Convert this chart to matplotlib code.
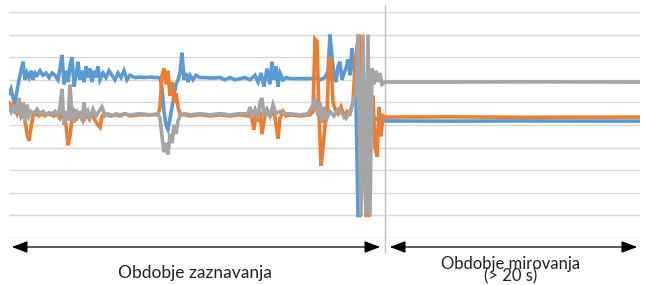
import numpy as np
import matplotlib
matplotlib.use('Agg')
import matplotlib.pyplot as plt
from matplotlib.patches import FancyArrowPatch

# Sensor traces (sample index, value)
blue_pts = [(0, 6.4), (2, 6.6), (4, 6.2), (6, 6.0), (8, 6.5), (10, 7.0), (12, 7.4), (14, 7.8), (16, 7.0), (18, 7.3),
            (20, 7.1), (22, 7.4), (24, 7.0), (26, 7.3), (28, 7.2), (31, 7.4), (34, 7.2), (37, 7.3), (40, 7.1), (43, 7.3),
            (46, 7.2), (49, 7.0), (51, 7.5), (53, 8.1), (55, 6.8), (57, 7.4), (59, 6.9), (61, 7.6), (63, 8.0), (65, 6.7),
            (67, 7.2), (69, 7.8), (71, 7.0), (73, 7.4), (75, 6.9), (77, 7.6), (79, 7.1), (81, 7.5), (83, 6.9), (85, 7.4),
            (87, 7.1), (89, 7.6), (91, 7.0), (94, 7.3), (97, 7.1), (100, 7.4), (103, 7.2), (106, 7.0), (109, 7.3), (112, 7.1),
            (115, 7.4), (118, 7.0), (121, 7.2), (126, 7.1), (131, 7.12), (136, 7.1), (141, 7.12), (146, 7.1), (151, 7.1),
            (153, 6.6), (155, 5.6), (157, 5.0), (159, 4.8), (161, 5.3), (163, 5.8), (165, 6.3), (167, 6.8), (169, 7.0),
            (171, 7.3), (173, 8.2), (175, 7.0), (177, 7.3), (179, 6.9), (181, 7.2), (184, 7.0), (187, 7.2), (191, 7.1),
            (196, 7.1), (201, 7.08), (206, 7.08), (211, 7.1), (216, 7.0), (221, 7.1), (226, 7.0), (231, 7.05), (236, 7.1),
            (241, 7.0), (246, 7.2), (249, 6.9), (252, 7.3), (255, 6.7), (258, 7.5), (261, 6.8), (263, 7.8), (265, 7.0),
            (267, 7.6), (269, 6.7), (271, 7.3), (274, 7.0), (277, 7.1), (281, 7.05), (291, 7.05), (301, 7.05), (306, 7.1),
            (311, 7.0), (316, 7.1), (319, 7.4), (321, 9.0), (323, 8.0), (325, 7.2), (327, 6.9), (329, 7.6), (331, 7.8),
            (333, 7.0), (335, 7.3), (337, 7.5), (339, 7.9), (341, 7.2), (343, 8.4), (345, 7.6), (347, 6.0), (349, 1.0),
            (351, 1.0), (353, 6.5), (357, 6.0), (361, 5.5), (366, 5.3), (371, 5.2), (376, 5.18), (441, 5.17), (511, 5.18),
            (631, 5.17)]

orange_pts = [(0, 6.0), (2, 5.6), (4, 5.9), (6, 5.7), (8, 5.5), (10, 5.8), (12, 5.4), (14, 5.6), (16, 5.2), (18, 4.6),
              (20, 4.3), (22, 4.9), (24, 5.4), (27, 5.5), (30, 5.4), (33, 5.5), (36, 5.4), (39, 5.5), (42, 5.45), (45, 5.4),
              (48, 5.5), (51, 5.3), (54, 5.6), (57, 5.0), (59, 4.1), (61, 4.5), (63, 5.3), (65, 5.6), (68, 5.3), (71, 5.5),
              (74, 5.2), (77, 5.6), (80, 5.3), (83, 5.5), (86, 5.2), (89, 5.0), (91, 4.9), (93, 5.4), (96, 5.5), (101, 5.4),
              (106, 5.45), (111, 5.4), (116, 5.5), (121, 5.4), (131, 5.45), (141, 5.45), (149, 5.45), (151, 5.8), (153, 7.2),
              (155, 7.5), (157, 6.8), (159, 7.4), (161, 6.3), (163, 6.9), (165, 6.0), (167, 6.4), (169, 5.8), (171, 5.5),
              (176, 5.45), (181, 5.4), (191, 5.45), (201, 5.4), (211, 5.45), (221, 5.4), (231, 5.45), (239, 5.4), (241, 5.7),
              (243, 5.2), (245, 4.8), (247, 5.5), (249, 5.3), (251, 5.6), (253, 4.6), (255, 5.2), (257, 5.6), (261, 5.4),
              (265, 5.6), (267, 5.0), (269, 4.4), (271, 5.3), (274, 5.6), (277, 5.4), (281, 5.45), (291, 5.4), (301, 5.45),
              (304, 5.6), (306, 8.8), (308, 8.7), (310, 5.5), (312, 3.2), (314, 4.0), (316, 5.0), (318, 5.5), (320, 8.0),
              (322, 7.8), (324, 6.0), (326, 5.7), (329, 5.5), (332, 5.8), (335, 5.4), (338, 5.6), (341, 5.5), (344, 6.0),
              (346, 7.5), (348, 8.5), (350, 9.0), (352, 8.0), (354, 5.0), (357, 1.0), (360, 1.0), (362, 5.5), (364, 6.3),
              (366, 4.0), (368, 3.6), (370, 5.8), (372, 4.5), (374, 5.4), (376, 5.35), (441, 5.36), (511, 5.34), (631, 5.35)]

gray_pts = [(0, 5.8), (2, 5.6), (4, 5.9), (6, 5.5), (8, 5.8), (10, 6.2), (12, 5.3), (14, 6.0), (16, 5.1), (18, 5.9),
            (20, 5.4), (22, 5.6), (25, 5.5), (28, 5.7), (31, 5.5), (34, 5.6), (37, 5.45), (40, 5.55), (43, 5.5), (46, 5.6),
            (49, 5.4), (51, 5.8), (53, 6.6), (55, 5.0), (57, 5.6), (59, 5.2), (61, 6.8), (63, 5.4), (65, 5.1), (67, 5.7),
            (69, 5.3), (71, 5.6), (73, 5.2), (75, 6.0), (77, 5.4), (79, 5.6), (81, 5.3), (84, 5.7), (87, 5.4), (90, 5.6),
            (93, 5.8), (96, 5.4), (99, 5.5), (103, 5.4), (107, 5.5), (111, 5.45), (116, 5.5), (121, 5.45), (131, 5.5),
            (141, 5.45), (149, 5.5), (151, 5.3), (153, 4.5), (155, 3.8), (157, 4.2), (159, 3.7), (161, 4.6), (163, 4.2),
            (165, 5.0), (167, 4.6), (169, 5.2), (171, 5.4), (176, 5.5), (181, 5.45), (191, 5.5), (201, 5.45), (211, 5.5),
            (221, 5.45), (231, 5.5), (239, 5.5), (241, 5.8), (243, 5.4), (246, 5.7), (249, 5.3), (251, 6.0), (253, 6.2),
            (255, 5.4), (258, 5.7), (261, 5.4), (264, 5.9), (267, 5.5), (271, 5.6), (276, 5.5), (281, 5.5), (291, 5.45),
            (299, 5.5), (303, 5.8), (306, 6.1), (309, 5.4), (311, 6.0), (313, 5.1), (315, 5.8), (318, 5.3), (321, 5.6),
            (325, 5.4), (329, 5.7), (333, 5.5), (337, 5.3), (341, 5.6), (344, 6.0), (347, 6.5), (349, 9.0), (352, 1.0),
            (354, 9.0), (357, 1.0), (359, 9.0), (361, 1.0), (363, 7.5), (365, 6.8), (367, 7.4), (369, 6.9), (371, 7.3),
            (373, 6.8), (376, 6.9), (441, 6.9), (511, 6.91), (631, 6.9)]

series_colors = ['#5B9BD5', '#ED7D31', '#A5A5A5']
split_sample = 376        # end of detection period
n_samples = 631

period_labels = ['Obdobje zaznavanja', 'Obdobje mirovanja', '(> 20 s)']

#---------------------------------------------------------------------------------------------
fig = plt.figure(figsize=(6.45, 2.85), dpi=100)
ax = fig.add_axes([9/645, 1 - 238/285, 631/645, 226/285])

for pts, col in zip([blue_pts, orange_pts, gray_pts], series_colors):
    x, y = zip(*pts)
    ax.plot(x, y, color=col, linewidth=2.6, solid_joinstyle='miter', zorder=3)

ax.set_xlim(0, n_samples)
ax.set_ylim(0, 10)
ax.set_yticks(np.arange(0, 11, 1))
ax.grid(axis='y', color='#d9d9d9', linewidth=1.0, zorder=0)
ax.tick_params(left=False, bottom=False, labelleft=False, labelbottom=False)
for s in ax.spines.values():
    s.set_visible(False)

# Divider between the two periods
ax.plot([split_sample, split_sample], [-0.6, 10.3], color='#b4c2d0', linewidth=1.0,
        clip_on=False, zorder=2)

# Period arrows
ya = 1 - 247/285
xs = 9/645 + split_sample / n_samples * 631/645
for x0, x1 in [(9/645, xs - 2/645), (xs + 2/645, 640/645)]:
    arr = FancyArrowPatch((x0, ya), (x1, ya), transform=fig.transFigure,
                          arrowstyle='<|-|>,head_length=0.8,head_width=0.3',
                          mutation_scale=12, color='black', linewidth=0.9)
    fig.patches.append(arr)

fig.text(195/645, 1 - 273/285, period_labels[0], ha='center', va='center',
         fontsize=12.5, family='Lato', color='#222222')
fig.text(511/645, 1 - 270/285, period_labels[1] + '\n' + period_labels[2], ha='center', va='center',
         fontsize=12, family='Lato', color='#222222', linespacing=0.72)

plt.savefig('out.png', dpi=100, facecolor='white')
